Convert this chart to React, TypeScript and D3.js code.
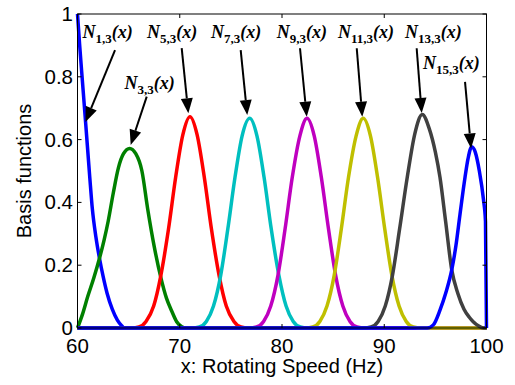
import React from "react";
import * as d3 from "d3";

// ---- data ----
const xTicks = [60, 70, 80, 90, 100];
const yTicks = [0, 0.2, 0.4, 0.6, 0.8, 1];
const yTickLabels = ["0", "0.2", "0.4", "0.6", "0.8", "1"];

const N1: [number, number][] = [
  [60, 1], [60.2, 0.906], [60.4, 0.82], [60.8, 0.652], [61.2, 0.48], [61.45, 0.38],
  [61.8, 0.29], [62.15, 0.222], [62.5, 0.165], [62.9, 0.11], [63.4, 0.06], [63.9, 0.025],
  [64.3, 0.008], [64.6, 0], [100, 0],
];
const N3: [number, number][] = [
  [60, 0], [60.5, 0.045], [61.0, 0.1], [61.6, 0.16], [62.15, 0.222], [62.6, 0.28],
  [63.0, 0.34], [63.5, 0.43], [64.0, 0.51], [64.5, 0.555], [65.1, 0.572], [65.7, 0.555],
  [66.3, 0.5], [66.86, 0.38], [67.5, 0.26], [68.17, 0.158], [68.7, 0.095], [69.2, 0.055],
  [69.7, 0.02], [70.2, 0.004], [70.6, 0], [100, 0],
];
const N5: [number, number][] = [
  [60, 0], [65.3, 0], [66.0, 0.003], [66.7, 0.021], [67.45, 0.07], [68.15, 0.167],
  [68.9, 0.315], [69.6, 0.48], [70.3, 0.615], [71.0, 0.673], [71.7, 0.615], [72.4, 0.48],
  [73.1, 0.315], [73.85, 0.167], [74.55, 0.07], [75.3, 0.021], [76.0, 0.003], [76.7, 0], [100, 0],
];
const N7: [number, number][] = [
  [60, 0], [71.2, 0], [71.9, 0.003], [72.6, 0.021], [73.3, 0.07], [74.0, 0.167],
  [74.7, 0.315], [75.4, 0.479], [76.1, 0.612], [76.84, 0.668], [77.55, 0.612], [78.25, 0.479],
  [78.95, 0.315], [79.7, 0.167], [80.4, 0.07], [81.1, 0.021], [81.8, 0.003], [82.5, 0], [100, 0],
];
const N9: [number, number][] = [
  [60, 0], [76.8, 0], [77.5, 0.003], [78.2, 0.021], [78.9, 0.07], [79.6, 0.167],
  [80.3, 0.315], [81.0, 0.479], [81.75, 0.612], [82.45, 0.668], [83.15, 0.612], [83.85, 0.479],
  [84.55, 0.315], [85.25, 0.167], [85.95, 0.07], [86.65, 0.021], [87.35, 0.003], [88.1, 0], [100, 0],
];
const N11: [number, number][] = [
  [60, 0], [82.3, 0], [83.0, 0.003], [83.7, 0.021], [84.4, 0.07], [85.1, 0.167],
  [85.8, 0.315], [86.5, 0.479], [87.25, 0.612], [87.95, 0.668], [88.65, 0.612], [89.35, 0.479],
  [90.05, 0.315], [90.75, 0.167], [91.45, 0.07], [92.15, 0.021], [92.85, 0.003], [93.6, 0], [100, 0],
];
const N13: [number, number][] = [
  [60, 0], [88.0, 0], [88.7, 0.003], [89.4, 0.021], [90.1, 0.07], [90.8, 0.167],
  [91.5, 0.315], [92.25, 0.48], [93.0, 0.62], [93.72, 0.68], [94.4, 0.635], [95.0, 0.56],
  [95.45, 0.48], [96.0, 0.34], [96.6, 0.185], [97.2, 0.11], [97.8, 0.06], [98.3, 0.035],
  [98.7, 0.02], [99.2, 0.007], [99.7, 0], [100, 0],
];
const N15: [number, number][] = [
  [60, 0], [94.2, 0], [94.8, 0.01], [95.45, 0.057], [96.0, 0.11], [96.6, 0.185],
  [97.0, 0.26], [97.4, 0.36], [97.9, 0.48], [98.2, 0.54], [98.55, 0.577], [98.9, 0.56],
  [99.3, 0.5], [99.7, 0.41], [99.9, 0.34], [100, 0],
];

const seriesData = [N1, N3, N5, N7, N9, N11, N13, N15];
const seriesColors = ["#0000ff", "#008000", "#ff0000", "#00bfbf", "#bf00bf", "#bfbf00", "#404040", "#0000ff"];

// annotation labels: index, text position, arrow start and tip (data units)
const labelIndex = ["1", "3", "5", "7", "9", "11", "13", "15"];
const labelPos: [number, number][] = [
  [60.5, 0.924], [64.6, 0.761], [66.8, 0.924], [73.06, 0.924],
  [79.48, 0.924], [85.48, 0.924], [92.03, 0.924], [93.79, 0.826],
];
const arrowFrom: [number, number][] = [
  [63.67, 0.885], [66.77, 0.737], [70.19, 0.891], [75.96, 0.885],
  [81.76, 0.891], [87.31, 0.891], [93.17, 0.891], [97.9, 0.784],
];
const arrowTo: [number, number][] = [
  [60.78, 0.656], [65.2, 0.583], [70.84, 0.684], [76.6, 0.678],
  [82.42, 0.673], [87.85, 0.673], [93.66, 0.685], [98.49, 0.572],
];

const W = 515;
const H = 385;
const left = 77.5;
const right = 486.5;
const top = 14;
const bottom = 328;

export default function App() {
  const x = d3.scaleLinear().domain([60, 100]).range([left, right]);
  const y = d3.scaleLinear().domain([0, 1]).range([bottom, top]);
  const line = d3
    .line<[number, number]>()
    .x((d) => x(d[0]))
    .y((d) => y(d[1]))
    .curve(d3.curveMonotoneX);

  const tick = 4;
  const sans = "'Liberation Sans', Arial, sans-serif";
  const serif = "'Liberation Serif', 'Times New Roman', serif";

  const arrowHead = (from: [number, number], to: [number, number]) => {
    const x0 = x(from[0]), y0 = y(from[1]);
    const x1 = x(to[0]), y1 = y(to[1]);
    const ang = Math.atan2(y1 - y0, x1 - x0);
    const L = 15, Wd = 6;
    const bx = x1 - L * Math.cos(ang), by = y1 - L * Math.sin(ang);
    const px = -Math.sin(ang) * Wd, py = Math.cos(ang) * Wd;
    return {
      line: [x0, y0, bx, by],
      head: `${x1},${y1} ${bx + px},${by + py} ${bx - px},${by - py}`,
    };
  };

  return (
    <svg width={W} height={H} style={{ position: "absolute", left: 0, top: 0, background: "#fff" }}>
      <rect x={0} y={0} width={W} height={H} fill="#fff" />
      {/* curves */}
      {seriesData.map((d, i) => (
        <path key={i} d={line(d) || ""} fill="none" stroke={seriesColors[i]} strokeWidth={3.5} strokeLinejoin="round" />
      ))}
      {/* frame */}
      <rect x={left} y={top} width={right - left} height={bottom - top} fill="none" stroke="#000" strokeWidth={1} />
      {/* x ticks */}
      {xTicks.map((t) => (
        <g key={"xt" + t}>
          <line x1={x(t)} x2={x(t)} y1={bottom} y2={bottom - tick} stroke="#000" />
          <line x1={x(t)} x2={x(t)} y1={top} y2={top + tick} stroke="#000" />
          <text x={x(t)} y={353} textAnchor="middle" fontFamily={sans} fontSize={20.5} fill="#000">
            {t}
          </text>
        </g>
      ))}
      {/* y ticks */}
      {yTicks.map((t, i) => (
        <g key={"yt" + t}>
          <line x1={left} x2={left + tick} y1={y(t)} y2={y(t)} stroke="#000" />
          <line x1={right} x2={right - tick} y1={y(t)} y2={y(t)} stroke="#000" />
          <text x={73} y={y(t) + 7} textAnchor="end" fontFamily={sans} fontSize={20.5} fill="#000">
            {yTickLabels[i]}
          </text>
        </g>
      ))}
      {/* axis titles */}
      <text x={(left + right) / 2} y={373} textAnchor="middle" fontFamily={sans} fontSize={20} fill="#000">
        x: Rotating Speed (Hz)
      </text>
      <text
        transform={`translate(31,${(top + bottom) / 2}) rotate(-90)`}
        textAnchor="middle"
        fontFamily={sans}
        fontSize={20}
        fill="#000"
      >
        Basis functions
      </text>
      {/* annotations */}
      {labelIndex.map((idx, i) => {
        const a = arrowHead(arrowFrom[i], arrowTo[i]);
        return (
          <g key={"ann" + i}>
            <text x={x(labelPos[i][0])} y={y(labelPos[i][1])} fontFamily={serif} fontWeight="bold" fontStyle="italic" fontSize={18} fill="#000">
              <tspan>N</tspan>
              <tspan dy={5} fontSize={13} fontStyle="normal">{idx + ",3"}</tspan>
              <tspan dy={-5}>(x)</tspan>
            </text>
            <line x1={a.line[0]} y1={a.line[1]} x2={a.line[2]} y2={a.line[3]} stroke="#000" strokeWidth={2} />
            <polygon points={a.head} fill="#000" />
          </g>
        );
      })}
    </svg>
  );
}
